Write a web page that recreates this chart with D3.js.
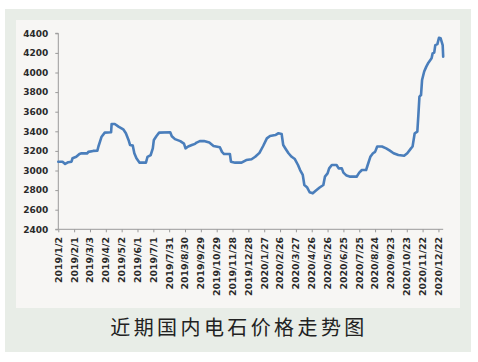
<!DOCTYPE html>
<html>
<head>
<meta charset="utf-8">
<script src="https://cdn.jsdelivr.net/npm/d3@7/dist/d3.min.js"></script>
<style>
  html, body { margin: 0; padding: 0; background: #ffffff; }
  svg { display: block; }
</style>
</head>
<body>
<svg id="chart" width="478" height="362"></svg>
<script>
// ---- data ----
const dates = [
  "2019-01-02","2019-01-10","2019-01-15","2019-01-21","2019-01-27","2019-01-29",
  "2019-02-05","2019-02-11","2019-02-15","2019-02-26","2019-02-28","2019-03-09",
  "2019-03-17","2019-03-19","2019-03-25","2019-03-31","2019-04-12","2019-04-13",
  "2019-04-19","2019-04-26","2019-05-05","2019-05-10","2019-05-15","2019-05-18",
  "2019-05-23","2019-05-26","2019-05-30","2019-06-05","2019-06-17","2019-06-20",
  "2019-06-26","2019-06-30","2019-07-02","2019-07-07","2019-07-12","2019-08-02",
  "2019-08-05","2019-08-11","2019-08-21","2019-08-28","2019-08-31","2019-09-05",
  "2019-09-12","2019-09-18","2019-09-21","2019-09-27","2019-10-05","2019-10-15",
  "2019-10-23","2019-11-04","2019-11-08","2019-11-12","2019-11-23","2019-11-25",
  "2019-12-03","2019-12-15","2019-12-24","2020-01-03","2020-01-10","2020-01-18",
  "2020-01-25","2020-02-01","2020-02-07","2020-02-17","2020-02-23","2020-02-29",
  "2020-03-03","2020-03-08","2020-03-13","2020-03-19","2020-03-25","2020-03-31",
  "2020-04-04","2020-04-09","2020-04-12","2020-04-17","2020-04-22","2020-04-28",
  "2020-05-04","2020-05-11","2020-05-18","2020-05-21","2020-05-26","2020-05-29",
  "2020-06-03","2020-06-12","2020-06-16","2020-06-22","2020-06-25","2020-07-01",
  "2020-07-08","2020-07-20","2020-07-25","2020-07-30","2020-08-07","2020-08-10",
  "2020-08-15","2020-08-20","2020-08-24","2020-08-28","2020-09-06","2020-09-14",
  "2020-09-21","2020-09-28","2020-10-07","2020-10-18","2020-10-24","2020-10-31",
  "2020-11-03","2020-11-07","2020-11-12","2020-11-14","2020-11-16","2020-11-19",
  "2020-11-21","2020-11-25","2020-11-29","2020-12-03","2020-12-09","2020-12-11",
  "2020-12-14","2020-12-16","2020-12-20","2020-12-23","2020-12-26","2020-12-30",
  "2020-12-31"
];
const prices = [
  3090,3090,3067,3085,3090,3125,
  3140,3168,3175,3175,3190,3200,
  3203,3245,3345,3386,3390,3475,
  3475,3448,3420,3380,3312,3260,
  3254,3176,3125,3080,3080,3140,
  3158,3226,3312,3352,3386,3390,
  3350,3320,3300,3275,3226,3245,
  3260,3272,3285,3300,3300,3285,
  3250,3237,3190,3168,3168,3090,
  3080,3080,3107,3115,3140,3180,
  3250,3328,3352,3362,3380,3373,
  3260,3217,3176,3140,3117,3056,
  3005,2955,2852,2830,2778,2767,
  2795,2826,2852,2937,2970,3022,
  3056,3056,3022,3022,2978,2948,
  2937,2937,2978,3005,3005,3056,
  3140,3176,3190,3245,3245,3226,
  3203,3176,3158,3150,3176,3226,
  3245,3380,3396,3567,3754,3770,
  3924,4010,4060,4100,4145,4195,
  4203,4280,4290,4355,4350,4280,
  4162
];
const tickLabels = [
  "2019/1/2","2019/2/1","2019/3/3","2019/4/2","2019/5/2","2019/6/1","2019/7/1",
  "2019/7/31","2019/8/30","2019/9/29","2019/10/29","2019/11/28","2019/12/28",
  "2020/1/27","2020/2/26","2020/3/27","2020/4/26","2020/5/26","2020/6/25",
  "2020/7/25","2020/8/24","2020/9/23","2020/10/23","2020/11/22","2020/12/22"
];
const yTicks = [2400,2600,2800,3000,3200,3400,3600,3800,4000,4200,4400];
const title = "近期国内电石价格走势图";

// ---- layout ----
const svg = d3.select("#chart");
const parse = d3.utcParse("%Y-%m-%d");
const parseLabel = d3.utcParse("%Y/%m/%d");
const data = dates.map((d, i) => ({ date: parse(d), value: prices[i] }));

svg.append("rect").attr("x", 5).attr("y", 9).attr("width", 466).attr("height", 343)
  .attr("fill", "#e8ede7");
svg.append("rect").attr("x", 16).attr("y", 20).attr("width", 444).attr("height", 288)
  .attr("fill", "#f7f6f4");

const x = d3.scaleUtc()
  .domain([parse("2019-01-02"), parse("2020-12-31")])
  .range([58.3, 443.2]);
const y = d3.scaleLinear().domain([2400, 4400]).range([229.3, 33.3]);

const axisColor = "#9a9a9a";

// y axis
const yAxis = d3.axisLeft(y).tickValues(yTicks).tickSize(3).tickPadding(7)
  .tickFormat(d3.format("d"));
const gy = svg.append("g").attr("transform", "translate(58.3,0)").call(yAxis);
gy.selectAll("path, line").attr("stroke", axisColor);
gy.select(".domain").attr("d", `M-3,${y(4400)}H0V${y(2400)}H-3`);
gy.selectAll("text")
  .attr("font-family", "DejaVu Sans, sans-serif")
  .attr("font-weight", "bold")
  .attr("font-size", "9px")
  .attr("fill", "#2a2a2a");

// x axis
const xTickDates = tickLabels.map(s => parseLabel(s));
const xAxis = d3.axisBottom(x).tickValues(xTickDates).tickSize(3).tickFormat("");
const gx = svg.append("g").attr("transform", "translate(0,229.3)").call(xAxis);
gx.selectAll("path, line").attr("stroke", axisColor);
gx.select(".domain").attr("d", `M${x.range()[0]},0H${x.range()[1]}`);

svg.append("g").selectAll("text").data(tickLabels).join("text")
  .attr("transform", (d, i) => `translate(${x(xTickDates[i])},237) rotate(-90)`)
  .attr("text-anchor", "end")
  .attr("dy", "0.36em")
  .attr("font-family", "DejaVu Sans, sans-serif")
  .attr("font-weight", "bold")
  .attr("font-size", "9.4px")
  .attr("fill", "#2a2a2a")
  .text(d => d);

// line
const line = d3.line().x(d => x(d.date)).y(d => y(d.value));
svg.append("path").datum(data)
  .attr("d", line)
  .attr("fill", "none")
  .attr("stroke", "#4a7ebb")
  .attr("stroke-width", 2.6)
  .attr("stroke-linejoin", "round")
  .attr("stroke-linecap", "round");

// title
svg.append("text")
  .attr("x", 239).attr("y", 335)
  .attr("text-anchor", "middle")
  .attr("font-family", "Noto Sans CJK SC, sans-serif")
  .attr("font-size", "20px")
  .attr("letter-spacing", "3.4px")
  .attr("fill", "#222")
  .text(title);
</script>
</body>
</html>
